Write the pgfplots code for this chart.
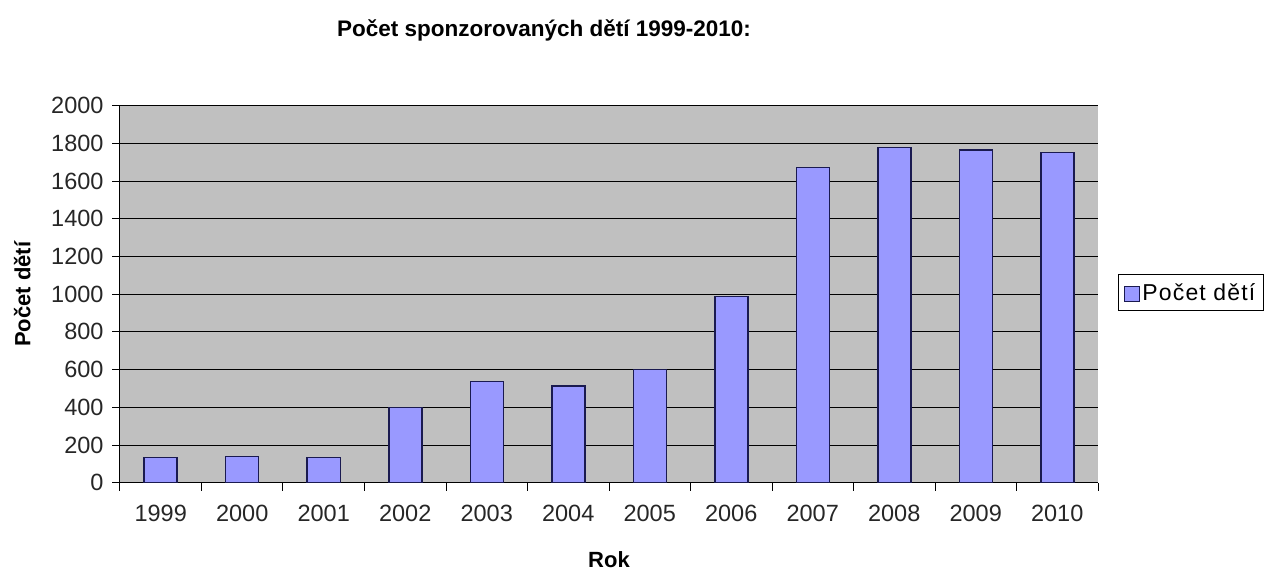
\documentclass[border=0pt]{standalone}
\usepackage{fontspec}
\setmainfont{Liberation Sans}
\usepackage{pgfplots}
\pgfplotsset{compat=1.18}

\definecolor{plotgray}{HTML}{C0C0C0}
\definecolor{barfill}{HTML}{9999FF}
\definecolor{baredge}{HTML}{1A1A50}

\begin{document}
\begin{tikzpicture}
  \begin{axis}[
      name=ax,
      at={(0pt,0pt)}, anchor=south west,
      scale only axis,
      width=978pt, height=377pt,
      axis x line*=bottom,
      axis y line*=left,
      axis line style={black, line width=1pt},
      axis background/.style={fill=plotgray},
      xmin=-0.5, xmax=11.5,
      ymin=0, ymax=2000,
      ytick={0,200,...,2000},
      xtick={0,...,11},
      xticklabels={1999,2000,2001,2002,2003,2004,2005,2006,2007,2008,2009,2010},
      minor xtick={-0.5,0.5,...,11.5},
      tick align=outside,
      major tick length=8pt,
      minor tick length=8pt,
      x tick style={draw=none},
      minor x tick style={draw=black, line width=1pt},
      y tick style={black, line width=1pt},
      ymajorgrids,
      grid style={black, line width=1pt},
      /pgf/number format/assume math mode=true,
      /pgf/number format/1000 sep={},
      tick label style={font=\fontsize{23.5}{27}\selectfont, text=black!85},
      xticklabel style={yshift=-11pt},
      yticklabel style={xshift=-5pt},
      ylabel={Počet dětí},
      ylabel style={at={(axis description cs:-0.1,0.5)}, anchor=center,
        font=\bfseries\fontsize{22}{26}\selectfont},
      xlabel={Rok},
      xlabel style={at={(axis description cs:0.5,0)}, anchor=center, yshift=-77pt,
        font=\bfseries\fontsize{22}{26}\selectfont},
      legend style={at={(1.0204,0.5536)}, anchor=north west,
        draw=black, line width=1pt, fill=white,
        font=\fontsize{23}{27}\selectfont\addfontfeatures{LetterSpace=5},
        inner xsep=6pt, inner ysep=7pt},
      legend image code/.code={
        \draw[#1, line width=1pt] (0pt,-9pt) rectangle (15pt,6pt);
      },
    ]
    \addplot[ybar, bar width=33pt, fill=barfill, draw=baredge, line width=1.5pt]
      coordinates {
        (0,133) (1,140) (2,133) (3,400) (4,536) (5,513)
        (6,601) (7,987) (8,1671) (9,1779) (10,1765) (11,1751)
      };
    \legend{Počet dětí}
  \end{axis}
  \node[font=\bfseries\fontsize{22.5}{27}\selectfont, anchor=center] at (424pt,452.7pt)
    {Počet sponzorovaných dětí 1999-2010:};
  \pgfresetboundingbox
  \path[use as bounding box] (-120pt,-88.3pt) rectangle (1147pt,482.7pt);
\end{tikzpicture}
\end{document}
